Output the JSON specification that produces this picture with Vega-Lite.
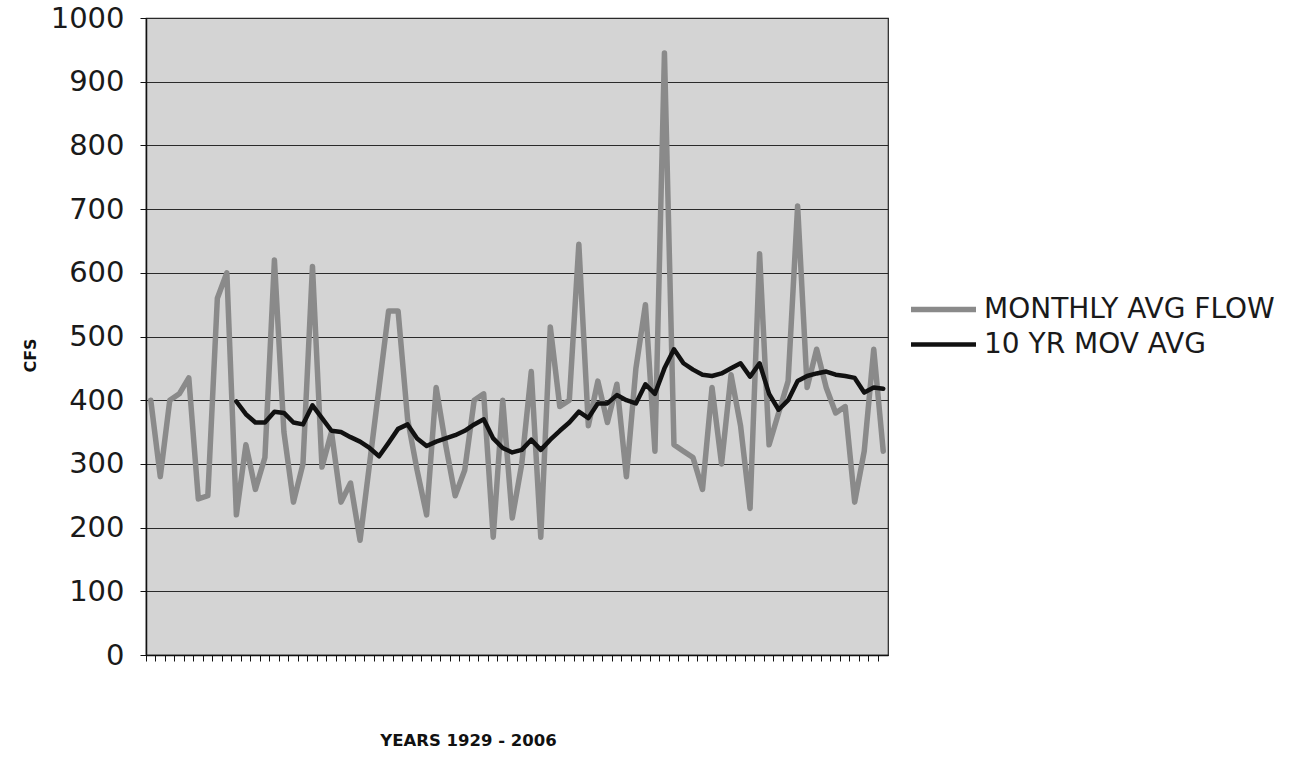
{
  "$schema": "https://vega.github.io/schema/vega-lite/v6.json",
  "autosize": {"type": "none"},
  "padding": {"left": 146, "top": 18, "right": 423, "bottom": 103},
  "width": 742,
  "height": 637,
  "background": "white",
  "config": {
    "font": "DejaVu Sans",
    "view": {"fill": "#d4d4d4", "stroke": "#222222", "strokeWidth": 1.2}
  },
  "data": {
    "values": [
      {"year": 1929, "flow": 400, "ma": null},
      {"year": 1930, "flow": 280, "ma": null},
      {"year": 1931, "flow": 400, "ma": null},
      {"year": 1932, "flow": 410, "ma": null},
      {"year": 1933, "flow": 435, "ma": null},
      {"year": 1934, "flow": 245, "ma": null},
      {"year": 1935, "flow": 250, "ma": null},
      {"year": 1936, "flow": 560, "ma": null},
      {"year": 1937, "flow": 600, "ma": null},
      {"year": 1938, "flow": 220, "ma": 398},
      {"year": 1939, "flow": 330, "ma": 378},
      {"year": 1940, "flow": 260, "ma": 365},
      {"year": 1941, "flow": 310, "ma": 365},
      {"year": 1942, "flow": 620, "ma": 382},
      {"year": 1943, "flow": 350, "ma": 380},
      {"year": 1944, "flow": 240, "ma": 365},
      {"year": 1945, "flow": 300, "ma": 362},
      {"year": 1946, "flow": 610, "ma": 392},
      {"year": 1947, "flow": 295, "ma": 372},
      {"year": 1948, "flow": 350, "ma": 352},
      {"year": 1949, "flow": 240, "ma": 350},
      {"year": 1950, "flow": 270, "ma": 342},
      {"year": 1951, "flow": 180, "ma": 335},
      {"year": 1952, "flow": 300, "ma": 325},
      {"year": 1953, "flow": 420, "ma": 312},
      {"year": 1954, "flow": 540, "ma": 333},
      {"year": 1955, "flow": 540, "ma": 355},
      {"year": 1956, "flow": 370, "ma": 362},
      {"year": 1957, "flow": 290, "ma": 340},
      {"year": 1958, "flow": 220, "ma": 328},
      {"year": 1959, "flow": 420, "ma": 335},
      {"year": 1960, "flow": 330, "ma": 340},
      {"year": 1961, "flow": 250, "ma": 345},
      {"year": 1962, "flow": 290, "ma": 352},
      {"year": 1963, "flow": 400, "ma": 362},
      {"year": 1964, "flow": 410, "ma": 370},
      {"year": 1965, "flow": 185, "ma": 340},
      {"year": 1966, "flow": 400, "ma": 325},
      {"year": 1967, "flow": 215, "ma": 318},
      {"year": 1968, "flow": 300, "ma": 322},
      {"year": 1969, "flow": 445, "ma": 338},
      {"year": 1970, "flow": 185, "ma": 322},
      {"year": 1971, "flow": 515, "ma": 338},
      {"year": 1972, "flow": 390, "ma": 352},
      {"year": 1973, "flow": 400, "ma": 365},
      {"year": 1974, "flow": 645, "ma": 382},
      {"year": 1975, "flow": 360, "ma": 372},
      {"year": 1976, "flow": 430, "ma": 395},
      {"year": 1977, "flow": 365, "ma": 395},
      {"year": 1978, "flow": 425, "ma": 408},
      {"year": 1979, "flow": 280, "ma": 400},
      {"year": 1980, "flow": 450, "ma": 395},
      {"year": 1981, "flow": 550, "ma": 425},
      {"year": 1982, "flow": 320, "ma": 410},
      {"year": 1983, "flow": 945, "ma": 450},
      {"year": 1984, "flow": 330, "ma": 480},
      {"year": 1985, "flow": 320, "ma": 458},
      {"year": 1986, "flow": 310, "ma": 448},
      {"year": 1987, "flow": 260, "ma": 440},
      {"year": 1988, "flow": 420, "ma": 438},
      {"year": 1989, "flow": 300, "ma": 442},
      {"year": 1990, "flow": 440, "ma": 450},
      {"year": 1991, "flow": 360, "ma": 458},
      {"year": 1992, "flow": 230, "ma": 437},
      {"year": 1993, "flow": 630, "ma": 458},
      {"year": 1994, "flow": 330, "ma": 410},
      {"year": 1995, "flow": 380, "ma": 385},
      {"year": 1996, "flow": 430, "ma": 400},
      {"year": 1997, "flow": 705, "ma": 430},
      {"year": 1998, "flow": 420, "ma": 438},
      {"year": 1999, "flow": 480, "ma": 442},
      {"year": 2000, "flow": 420, "ma": 445},
      {"year": 2001, "flow": 380, "ma": 440},
      {"year": 2002, "flow": 390, "ma": 438},
      {"year": 2003, "flow": 240, "ma": 435},
      {"year": 2004, "flow": 320, "ma": 412},
      {"year": 2005, "flow": 480, "ma": 420},
      {"year": 2006, "flow": 320, "ma": 418}
    ]
  },
  "transform": [
    {"fold": ["flow", "ma"], "as": ["series", "cfs"]},
    {"filter": "datum.cfs != null"}
  ],
  "mark": {"type": "line", "strokeJoin": "round", "strokeCap": "round"},
  "encoding": {
    "x": {
      "field": "year",
      "type": "ordinal",
      "bandPosition": 0.5,
      "scale": {"type": "band", "paddingInner": 0, "paddingOuter": 0},
      "axis": {
        "labels": false,
        "bandPosition": 0,
        "grid": false,
        "domainColor": "#111111",
        "domainWidth": 1.5,
        "tickColor": "#111111",
        "tickSize": 6,
        "tickWidth": 1,
        "title": "YEARS  1929 - 2006",
        "titleFont": "DejaVu Sans",
        "titleFontSize": 16.5,
        "titleFontWeight": "bold",
        "titleColor": "#111111",
        "titleX": 322,
        "titleY": 85,
        "titleAlign": "center",
        "titleBaseline": "middle"
      }
    },
    "y": {
      "field": "cfs",
      "type": "quantitative",
      "scale": {"domain": [0, 1000], "nice": false},
      "axis": {
        "values": [0, 100, 200, 300, 400, 500, 600, 700, 800, 900, 1000],
        "format": "d",
        "grid": true,
        "gridColor": "#2a2a2a",
        "gridWidth": 1,
        "domainColor": "#111111",
        "domainWidth": 1.5,
        "tickColor": "#111111",
        "tickSize": 6,
        "labelFontSize": 29,
        "labelColor": "#1a1a1a",
        "labelPadding": 16,
        "title": "CFS",
        "titleFontSize": 16,
        "titleFontWeight": "bold",
        "titleColor": "#111111",
        "titleX": -116,
        "titleY": 337,
        "titleAlign": "center",
        "titleBaseline": "middle",
        "titleAngle": -90
      }
    },
    "color": {
      "field": "series",
      "type": "nominal",
      "scale": {"domain": ["flow", "ma"], "range": ["#8a8a8a", "#111111"]},
      "legend": {
        "orient": "none",
        "legendX": 762,
        "legendY": 275,
        "title": null,
        "labelExpr": "datum.value == 'flow' ? 'MONTHLY AVG FLOW' : '10 YR MOV AVG'",
        "labelFontSize": 28,
        "labelLimit": 0,
        "labelColor": "#1a1a1a",
        "symbolType": "M-1,0L1,0",
        "symbolSize": 4225,
        "symbolStrokeWidth": 5,
        "clipHeight": 33,
        "rowPadding": 2,
        "labelOffset": 5
      }
    },
    "strokeWidth": {
      "field": "series",
      "type": "nominal",
      "scale": {"domain": ["flow", "ma"], "range": [5.5, 4.5]},
      "legend": null
    }
  }
}
